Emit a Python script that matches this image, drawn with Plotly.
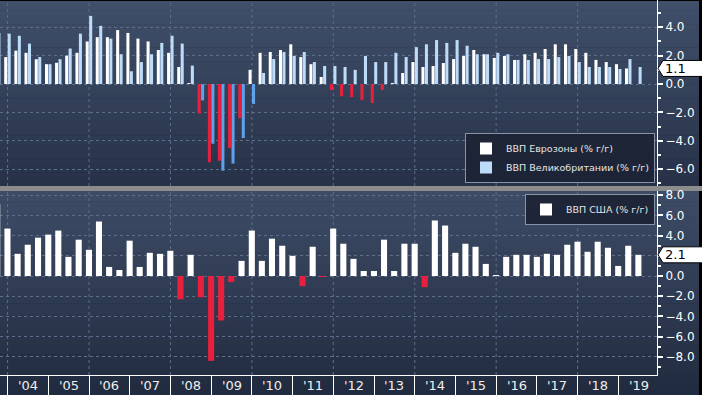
import pandas as pd
import plotly.graph_objects as go
from plotly.subplots import make_subplots

# ---------------- data ----------------
quarters = pd.period_range("2003Q3", "2019Q2", freq="Q")
dates = [q.end_time.strftime("%Y-%m-%d") for q in quarters]

ez_gdp = [0.8, 1.9, 2.35, 2.2, 1.75, 1.4, 1.5, 2.0, 2.2, 3.0, 3.3, 3.3, 3.8, 3.6, 3.2, 3.0,
          2.4, 2.2, 1.2, 0.07, -2.07, -5.5, -5.4, -4.5, -2.4, 1.0, 2.2, 2.26, 2.4, 2.8, 1.9, 1.4,
          0.5, -0.42, -0.85, -0.92, -1.13, -1.34, -0.42, 0.07, 0.78, 1.55, 1.2, 1.27, 1.48, 1.76,
          1.98, 2.4, 2.1, 1.84, 1.98, 1.7, 2.1, 2.2, 2.47, 2.8, 2.8, 2.47, 2.2, 1.7, 1.55, 1.4,
          1.1, None]
uk_gdp = [3.6, 3.55, 3.4, 2.85, 1.9, 1.4, 1.75, 2.5, 3.55, 4.8, 4.1, 3.2, 2.1, 0.9, 1.55, 2.1,
          2.9, 3.4, 2.85, 1.3, -1.15, -4.2, -6.1, -5.6, -3.8, -1.4, 0.78, 1.76, 2.26, 1.98, 2.26,
          1.55, 1.27, 1.27, 1.2, 1.0, 1.98, 1.55, 1.55, 2.2, 1.9, 2.6, 2.8, 3.1, 2.9, 3.1, 2.7,
          2.1, 2.1, 2.2, 2.1, 1.7, 1.7, 1.76, 1.76, 1.9, 1.98, 1.55, 1.2, 1.2, 1.2, 1.06, 1.76,
          1.2]
us_gdp = [7.1, 4.7,
          2.2, 3.1, 3.8, 4.1,
          4.5, 1.9, 3.6, 2.6,
          5.4, 0.9, 0.6, 3.5,
          0.9, 2.3, 2.2, 2.5,
          -2.3, 2.1, -2.1, -8.4,
          -4.4, -0.6, 1.5, 4.5,
          1.5, 3.7, 3.0, 2.0,
          -1.0, 2.9, -0.1, 4.7,
          3.2, 1.7, 0.5, 0.5,
          3.6, 0.5, 3.2, 3.2,
          -1.1, 5.5, 5.0, 2.3,
          3.2, 2.9, 1.2, 0.1,
          1.9, 2.1, 2.1, 1.9,
          2.2, 2.1, 3.1, 3.4,
          2.4, 3.4, 2.8, 1.0,
          3.0, 2.1]

name_ez = "ВВП Еврозоны (% г/г)"
name_uk = "ВВП Великобритании (% г/г)"
name_us = "ВВП США (% г/г)"
label_years = list(range(2004, 2020))
year_labels = ["'%02d" % (y % 100) for y in label_years]
grid_years = list(range(2004, 2020, 2))
x_range = ["2003-10-25", "2019-12-14"]
top_range = [-7.18, 5.92]
bottom_range = [-9.8, 8.42]

# ---------------- styling ----------------
W, H = 702, 395
ML, MR, MT, MB = 0, 45, 0, 20
PW, PH = W - ML - MR, H - MT - MB

def pxx(px):
    return (px - ML) / PW

def pxy(py):
    return (H - MB - py) / PH

WHITE = "#ffffff"
RED = "#e8203d"
UK_POS = "#bcdcfa"
UK_NEG = "#5ea2ec"
GRID = "#5d6e8b"
FONT = "DejaVu Sans"

def colors(vals, pos, neg):
    return [neg if (v is not None and v < 0) else pos for v in vals]

fig = make_subplots(rows=2, cols=1, shared_xaxes=True)

fig.add_trace(go.Bar(x=dates, y=ez_gdp, name=name_ez, marker=dict(color=colors(ez_gdp, WHITE, RED), line_width=0),
                     legend="legend"), row=1, col=1)
fig.add_trace(go.Bar(x=dates, y=uk_gdp, name=name_uk, marker=dict(color=colors(uk_gdp, UK_POS, UK_NEG), line_width=0),
                     legend="legend"), row=1, col=1)
fig.add_trace(go.Bar(x=dates, y=us_gdp, name=name_us, marker=dict(color=colors(us_gdp, WHITE, RED), line_width=0),
                     legend="legend2"), row=2, col=1)

shapes = []

def gradient(py0, py1, c0, c1, n=40):
    out = []
    for i in range(n):
        a = py0 + (py1 - py0) * i / n
        b = py0 + (py1 - py0) * (i + 1) / n + 0.6
        t = (i + 0.5) / n
        c = tuple(int(round(c0[j] + (c1[j] - c0[j]) * t)) for j in range(3))
        out.append(dict(type="rect", xref="paper", yref="paper", x0=pxx(0), x1=pxx(699),
                        y0=pxy(min(b, py1)), y1=pxy(a), fillcolor="rgb(%d,%d,%d)" % c,
                        line_width=0, layer="below"))
    return out

shapes += gradient(1, 186, (64, 79, 106), (39, 50, 72))
shapes += gradient(191, 395, (62, 76, 102), (33, 43, 63))
shapes.append(dict(type="rect", xref="paper", yref="paper", x0=pxx(0), x1=pxx(702),
                   y0=pxy(191), y1=pxy(186), fillcolor="#8c8c8c", line_width=0, layer="below"))

for yr in grid_years:
    for yd in ("y domain", "y2 domain"):
        shapes.append(dict(type="line", xref="x", yref=yd, x0="%d-01-01" % yr, x1="%d-01-01" % yr,
                           y0=0, y1=1, line=dict(color=GRID, width=1, dash="3px,3px"), layer="below"))

annotations = []
# year labels centred in each year
for yr, lab in zip(label_years, year_labels):
    annotations.append(dict(xref="x2", yref="paper", x="%d-07-02" % yr, y=pxy(385.5),
                            xanchor="center", yanchor="middle", text=lab, showarrow=False,
                            font=dict(family=FONT, size=13, color="#eeeeee")))

# last-value flags
ez_last = [v for v in ez_gdp if v is not None][-1]
for val, yref in ((ez_last, "y"), (us_gdp[-1], "y2")):
    shapes.append(dict(type="path", xref="paper", yref=yref, xsizemode="pixel", ysizemode="pixel",
                       xanchor=1.0, yanchor=val,
                       path="M 1 0 L 6 -8 L 48 -8 L 48 8 L 6 8 Z",
                       fillcolor="white", line=dict(color="black", width=1), layer="above"))
    annotations.append(dict(xref="paper", yref=yref, x=pxx(663), y=val, xanchor="left", yanchor="middle",
                            text="%.1f" % val, showarrow=False,
                            font=dict(family=FONT, size=13, color="black")))

fig.update_layout(
    width=W, height=H,
    margin=dict(l=ML, r=MR, t=MT, b=MB, autoexpand=False),
    paper_bgcolor="black", plot_bgcolor="rgba(0,0,0,0)",
    barmode="group", bargap=0.31, bargroupgap=0.12,
    showlegend=True, hovermode=False,
    shapes=shapes, annotations=annotations,
    legend=dict(x=pxx(655), xanchor="right", y=pxy(183), yanchor="bottom",
                bgcolor="rgba(28,36,54,0.95)", bordercolor="#8793a8", borderwidth=1,
                font=dict(family=FONT, size=9.5, color="#e4e4e4"), tracegroupgap=0,
                itemclick=False, itemwidth=30),
    legend2=dict(x=pxx(655), xanchor="right", y=pxy(194), yanchor="top",
                 bgcolor="rgba(28,36,54,0.95)", bordercolor="#8793a8", borderwidth=1,
                 font=dict(family=FONT, size=9.5, color="#e4e4e4"), itemclick=False, itemwidth=30),
)

yaxis_common = dict(side="right", showline=True, linecolor="white", linewidth=1,
                    ticks="outside", ticklen=5, tickwidth=2, tickcolor="white",
                    minor=dict(ticks="outside", ticklen=3, dtick=1, tickcolor="white", showgrid=False),
                    dtick=2, tick0=0, tickformat=".1f", showgrid=True, gridcolor=GRID, griddash="3px,3px",
                    zeroline=False, automargin=False,
                    tickfont=dict(family=FONT, size=12, color="white"))

fig.update_layout(
    yaxis=dict(domain=[pxy(186), pxy(0)], range=top_range, **yaxis_common),
    yaxis2=dict(domain=[0, pxy(191)], range=bottom_range, **yaxis_common),
    xaxis=dict(type="date", range=x_range, showgrid=False, showticklabels=False, ticks="",
               zeroline=False, automargin=False),
    xaxis2=dict(type="date", range=x_range, showgrid=False, zeroline=False, automargin=False,
                showline=True, linecolor="white", linewidth=1,
                ticks="outside", ticklen=20, tickcolor="white", tickwidth=1,
                tick0="2004-01-01", dtick="M12", showticklabels=False),
)

fig.write_html("out.html", config={"displayModeBar": False, "staticPlot": True},
               post_script="document.body.style.margin='0px';document.body.style.padding='0px';"
                           "document.body.style.background='black';")
